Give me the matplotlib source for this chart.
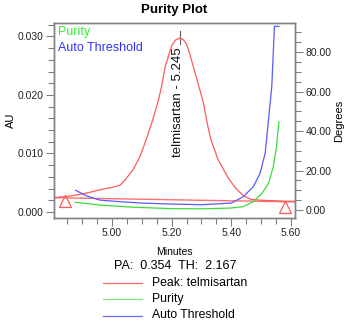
import matplotlib
matplotlib.use("Agg")
import matplotlib.pyplot as plt
from matplotlib.lines import Line2D
from matplotlib.ticker import MultipleLocator, FormatStrFormatter

plt.rcParams['font.family'] = ['Liberation Sans', 'DejaVu Sans']

# chromatogram (AU) vs minutes
peak_t = [4.805, 4.853, 4.88, 4.92, 4.96, 5.00, 5.027, 5.044, 5.07, 5.094,
          5.114, 5.136, 5.155, 5.165, 5.178, 5.20, 5.213, 5.226, 5.238, 5.25,
          5.262, 5.284, 5.306, 5.32, 5.332, 5.356, 5.39, 5.416, 5.44, 5.463,
          5.50, 5.55, 5.614]
peak_au = [0.00245, 0.0027, 0.0029, 0.0033, 0.0038, 0.0042, 0.0046, 0.0055, 0.0072, 0.0095,
           0.0123, 0.0157, 0.0190, 0.0212, 0.0248, 0.0284, 0.0294, 0.0297, 0.0295, 0.0287,
           0.0268, 0.0228, 0.0188, 0.0150, 0.0123, 0.0089, 0.0058, 0.0040, 0.0028, 0.0022,
           0.0020, 0.0019, 0.0018]

# integration baseline and start/end markers
base_t = [4.805, 5.614]
base_au = [0.00244, 0.00172]
mark_t = [4.842, 5.58]
mark_au = [0.0019, 0.0009]

# purity and threshold angles (degrees)
pur_t = [4.877, 4.96, 5.07, 5.20, 5.30, 5.40, 5.44, 5.474, 5.503, 5.525, 5.541, 5.552, 5.56]
pur_deg = [3.9, 2.5, 1.4, 0.7, 0.6, 1.0, 1.7, 4.2, 8.4, 13.5, 21.9, 32.0, 44.7]
thr_t = [4.877, 4.915, 4.96, 5.027, 5.10, 5.20, 5.30, 5.40, 5.44, 5.474, 5.497,
         5.514, 5.525, 5.536, 5.545, 5.56]
thr_deg = [10.0, 7.1, 5.0, 4.2, 3.5, 3.0, 2.7, 3.5, 6.7, 11.8, 18.7,
           28.9, 45.6, 62.4, 93.0, 93.0]

peak_name = "telmisartan"
peak_rt = 5.245
peak_apex_t = 5.228
PA, TH = 0.354, 2.167

W, H = 348, 322
fig = plt.figure(figsize=(W / 100, H / 100), dpi=100)
ax = fig.add_axes([54 / W, 1 - 218 / H, (295 - 54) / W, (218 - 23) / H])
ax2 = ax.twinx()

red = '#ff5a5a'
green = '#3ddc3d'
blue = '#5a5aff'
spine = '#808080'

ax.plot(base_t, base_au, color='#ff7070', lw=1.0, zorder=2)
ax.plot(peak_t, peak_au, color=red, lw=0.9, zorder=3)
ax.plot(mark_t, mark_au, ls='none', marker='^', ms=9, mfc='none', mec=red, mew=0.9,
        clip_on=False)
ax2.plot(pur_t, pur_deg, color=green, lw=0.9)
ax2.plot(thr_t, thr_deg, color=blue, lw=0.9)

ax.set_xlim(4.805, 5.614)
ax.set_ylim(-0.00103, 0.0323)
ax2.set_ylim(-4.05, 94.7)

# peak label
apex = max(peak_au)
ax.plot([peak_apex_t, peak_apex_t], [apex - 0.0010, apex + 0.0013], color='#606060', lw=0.8)
ax.text(peak_apex_t - 0.006, apex - 0.0015, f"{peak_name} - {peak_rt:.3f}", rotation=90,
        ha='center', va='top', fontsize=9.5, color='#111111')

ax.text(0.018, 0.955, "Purity", transform=ax.transAxes, color='#33ee33', fontsize=9,
        va='center')
ax.text(0.018, 0.87, "Auto Threshold", transform=ax.transAxes, color='#3333ff', fontsize=9,
        va='center')

ax.xaxis.set_major_locator(MultipleLocator(0.2))
ax.xaxis.set_minor_locator(MultipleLocator(0.05))
ax.xaxis.set_major_formatter(FormatStrFormatter('%.2f'))
ax.yaxis.set_major_locator(MultipleLocator(0.01))
ax.yaxis.set_minor_locator(MultipleLocator(0.002))
ax.yaxis.set_major_formatter(FormatStrFormatter('%.3f'))
ax2.yaxis.set_major_locator(MultipleLocator(20))
ax2.yaxis.set_minor_locator(MultipleLocator(5))
ax2.yaxis.set_major_formatter(FormatStrFormatter('%.2f'))

for a in (ax, ax2):
    for s in a.spines.values():
        s.set_color(spine)
        s.set_linewidth(1.0)
    a.tick_params(which='major', direction='out', length=6, width=0.8, color=spine,
                  labelsize=7.5, labelcolor='#222222', pad=1.5)
    a.tick_params(which='minor', direction='out', length=4, width=0.8, color=spine)

ax.set_xlabel("Minutes", fontsize=7.5, labelpad=6)
ax.set_ylabel("AU", fontsize=8, labelpad=1)
ax2.set_ylabel("Degrees", fontsize=8, labelpad=2)
ax.set_title("Purity Plot", fontsize=9.5, fontweight='bold', pad=7)

fig.text(175 / W, 1 - 266 / H, f"PA:  {PA:.3f}  TH:  {TH:.3f}", ha='center', va='center',
         fontsize=9)

legend_items = [("Peak: " + peak_name, '#ff6a6a'), ("Purity", '#80e880'),
                ("Auto Threshold", '#6a6aff')]
for i, (lab, col) in enumerate(legend_items):
    y = 1 - (282.5 + 16.5 * i) / H
    fig.add_artist(Line2D([103 / W, 142 / W], [y, y], color=col, lw=0.9,
                          transform=fig.transFigure))
    fig.text(152 / W, y, lab, ha='left', va='center', fontsize=8.8)

fig.savefig("out.png", dpi=100)
